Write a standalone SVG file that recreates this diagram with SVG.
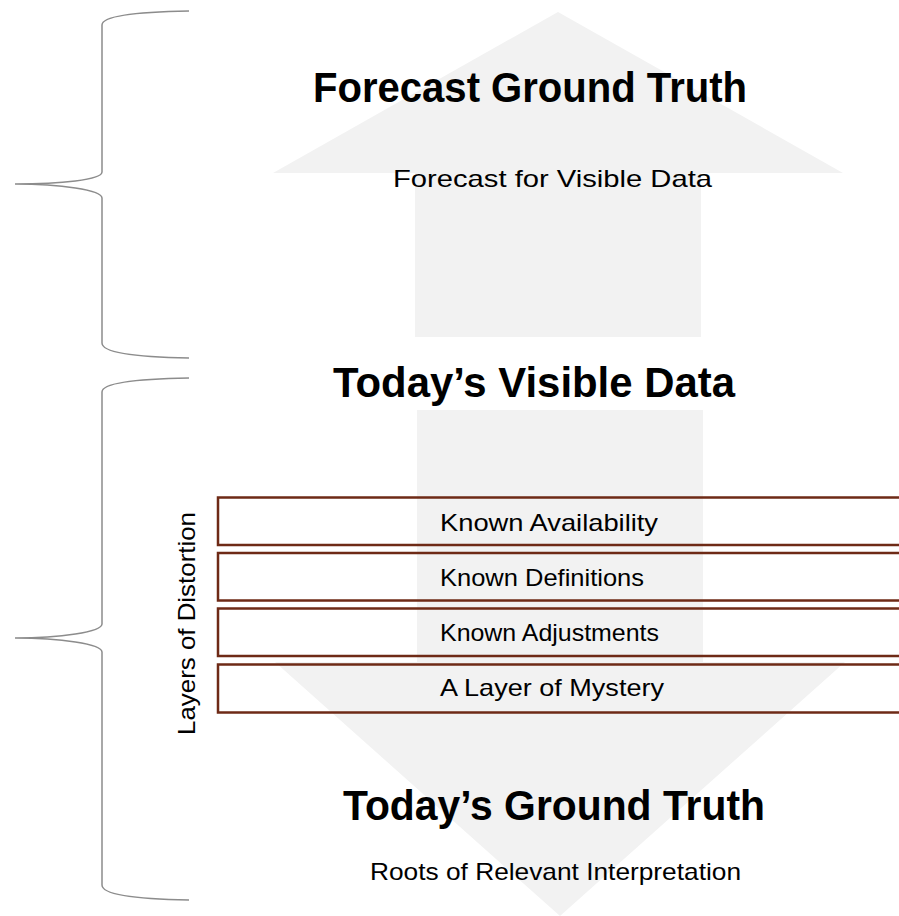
<svg xmlns="http://www.w3.org/2000/svg" width="899" height="916" viewBox="0 0 899 916">
  <style>
    .arrow { fill: #f2f2f2; stroke: none; }
    .brace { fill: none; stroke: #8c8c8c; stroke-width: 1.5; }
    .layer { fill: none; stroke: #6e2a16; stroke-width: 2.5; }
    .title { font-family: "Liberation Sans", Arial, sans-serif; font-weight: bold; font-size: 42px; fill: #000; }
    .sub { font-family: "Liberation Sans", Arial, sans-serif; font-size: 24px; fill: #000; }
  </style>
  <rect width="899" height="916" fill="#ffffff"/>

  <!-- background block arrows -->
  <g id="arrow-up">
    <polygon class="arrow" points="558,12 843,173 701,173 701,337 415,337 415,173 273,173"/>
  </g>
  <g id="arrow-down">
    <polygon class="arrow" points="417,410 703,410 703,662 845,662 560,916 275,662 417,662"/>
  </g>

  <!-- curly braces on the left -->
  <g id="connectors">
    <path class="brace" d="M189,11 C130,12 102,17 102,25 L102,172 C102,180 60,184 15,184 C60,184 102,190 102,198 L102,343 C102,352 130,357 189,358"/>
    <path class="brace" d="M189,378 C130,379 102,384 102,392 L102,624 C102,632 60,638 15,638 C60,638 102,644 102,652 L102,885 C102,894 130,899 189,900"/>
  </g>

  <g id="forecast-ground-truth">
    <text class="title" x="313" y="102" textLength="434" lengthAdjust="spacingAndGlyphs">Forecast Ground Truth</text>
    <text class="sub" x="393" y="187" textLength="319" lengthAdjust="spacingAndGlyphs">Forecast for Visible Data</text>
  </g>

  <g id="todays-visible-data">
    <text class="title" x="333" y="397" textLength="402" lengthAdjust="spacingAndGlyphs">Today’s Visible Data</text>
  </g>

  <g id="layers-of-distortion">
    <text class="sub" transform="translate(195,735) rotate(-90)" textLength="223" lengthAdjust="spacingAndGlyphs">Layers of Distortion</text>
  </g>

  <g id="known-availability">
    <rect class="layer" x="218" y="497.5" width="700" height="47.5"/>
    <text class="sub" x="440" y="531" textLength="218" lengthAdjust="spacingAndGlyphs">Known Availability</text>
  </g>
  <g id="known-definitions">
    <rect class="layer" x="218" y="553" width="700" height="47.5"/>
    <text class="sub" x="440" y="586" textLength="204" lengthAdjust="spacingAndGlyphs">Known Definitions</text>
  </g>
  <g id="known-adjustments">
    <rect class="layer" x="218" y="608.5" width="700" height="47.5"/>
    <text class="sub" x="440" y="641" textLength="219" lengthAdjust="spacingAndGlyphs">Known Adjustments</text>
  </g>
  <g id="layer-of-mystery">
    <rect class="layer" x="218" y="664.5" width="700" height="48"/>
    <text class="sub" x="440" y="696" textLength="224" lengthAdjust="spacingAndGlyphs">A Layer of Mystery</text>
  </g>

  <g id="todays-ground-truth">
    <text class="title" x="343" y="820" textLength="422" lengthAdjust="spacingAndGlyphs">Today’s Ground Truth</text>
    <text class="sub" x="370" y="880" textLength="371" lengthAdjust="spacingAndGlyphs">Roots of Relevant Interpretation</text>
  </g>
</svg>
